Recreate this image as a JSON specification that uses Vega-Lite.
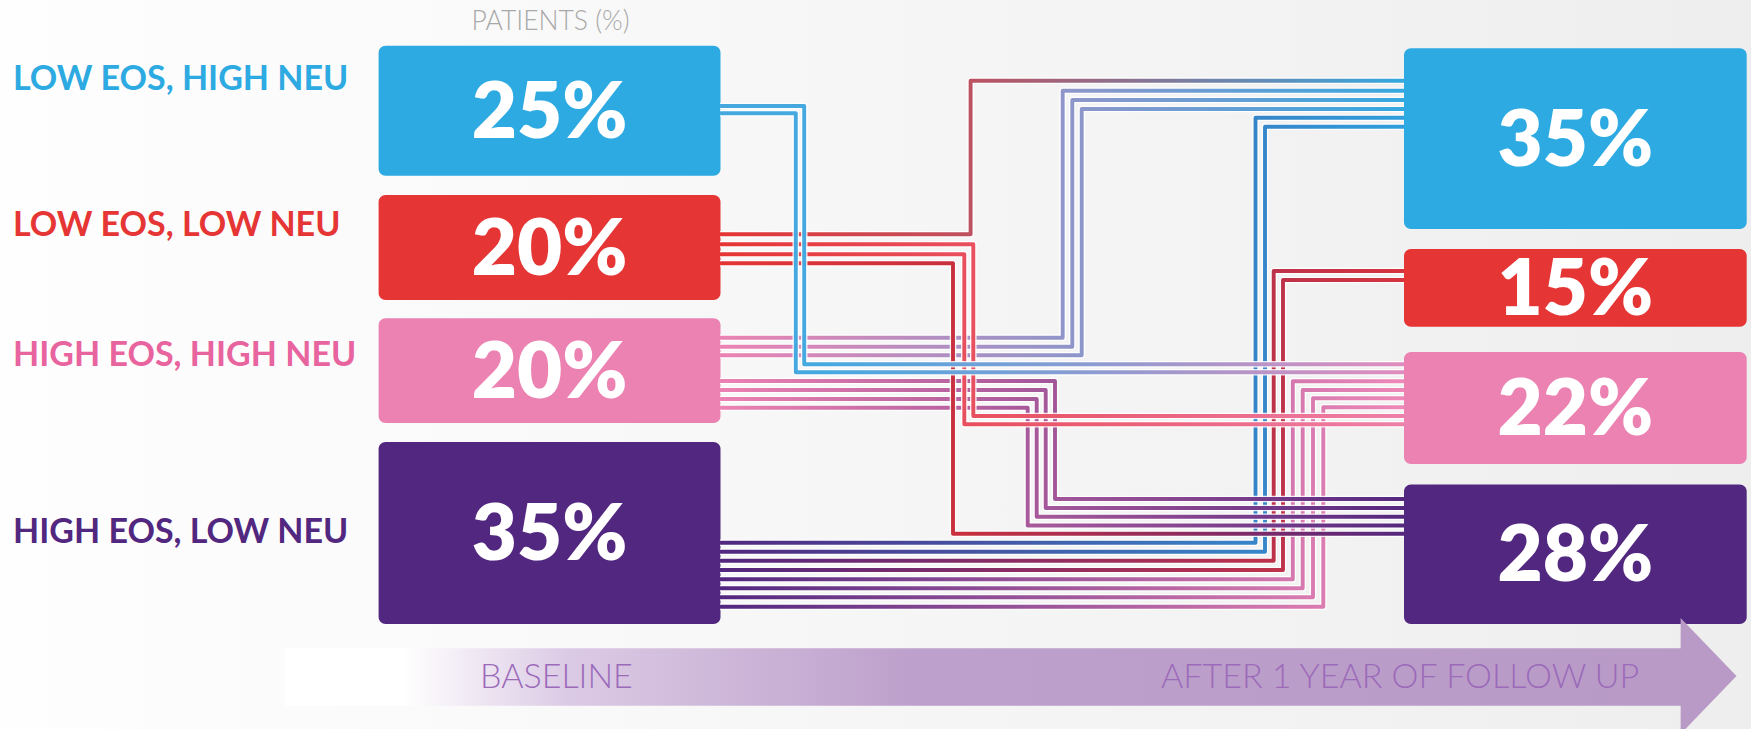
{
  "$schema": "https://vega.github.io/schema/vega-lite/v6.json",
  "width": 1751,
  "height": 729,
  "autosize": {"type": "none"},
  "padding": 0,
  "background": "#FFFFFF",
  "config": {"view": {"stroke": null}, "font": "Lato"},
  "resolve": {"scale": {"color": "independent"}},
  "datasets": {
    "boxes": [
      {"stage": "Baseline", "group": "Low EOS, High NEU", "pct": 0.25, "x0": 378.6, "x1": 720.5, "y0": 45.7, "y1": 175.7},
      {"stage": "Baseline", "group": "Low EOS, Low NEU", "pct": 0.20, "x0": 378.6, "x1": 720.5, "y0": 195, "y1": 300},
      {"stage": "Baseline", "group": "High EOS, High NEU", "pct": 0.20, "x0": 378.6, "x1": 720.5, "y0": 318.3, "y1": 423},
      {"stage": "Baseline", "group": "High EOS, Low NEU", "pct": 0.35, "x0": 378.6, "x1": 720.5, "y0": 442, "y1": 624},
      {"stage": "After 1 year", "group": "Low EOS, High NEU", "pct": 0.35, "x0": 1404, "x1": 1746.7, "y0": 48.3, "y1": 229},
      {"stage": "After 1 year", "group": "Low EOS, Low NEU", "pct": 0.15, "x0": 1404, "x1": 1746.7, "y0": 249, "y1": 326.7},
      {"stage": "After 1 year", "group": "High EOS, High NEU", "pct": 0.22, "x0": 1404, "x1": 1746.7, "y0": 352, "y1": 464},
      {"stage": "After 1 year", "group": "High EOS, Low NEU", "pct": 0.28, "x0": 1404, "x1": 1746.7, "y0": 484.5, "y1": 624}
    ],
    "labels": [
      {"text": "LOW EOS, HIGH NEU", "group": "Low EOS, High NEU", "x": 13, "y": 90},
      {"text": "LOW EOS, LOW NEU", "group": "Low EOS, Low NEU", "x": 13, "y": 235.7},
      {"text": "HIGH EOS, HIGH NEU", "group": "High EOS, High NEU", "x": 13, "y": 365.7},
      {"text": "HIGH EOS, LOW NEU", "group": "High EOS, Low NEU", "x": 13, "y": 543.3}
    ],
    "paths": [
      {"flow": "b>p", "line": "B1", "step": 0, "x": 720, "y": 106},
      {"flow": "b>p", "line": "B1", "step": 1, "x": 804.2, "y": 106},
      {"flow": "b>p", "line": "B1", "step": 2, "x": 804.2, "y": 364.3},
      {"flow": "b>p", "line": "B1", "step": 3, "x": 1404, "y": 364.3},
      {"flow": "b>p", "line": "B2", "step": 0, "x": 720, "y": 113.3},
      {"flow": "b>p", "line": "B2", "step": 1, "x": 795.8, "y": 113.3},
      {"flow": "b>p", "line": "B2", "step": 2, "x": 795.8, "y": 372.3},
      {"flow": "b>p", "line": "B2", "step": 3, "x": 1404, "y": 372.3},
      {"flow": "r>b", "line": "R1", "step": 0, "x": 720, "y": 234.3},
      {"flow": "r>b", "line": "R1", "step": 1, "x": 970.6, "y": 234.3},
      {"flow": "r>b", "line": "R1", "step": 2, "x": 970.6, "y": 80.8},
      {"flow": "r>b", "line": "R1", "step": 3, "x": 1404, "y": 80.8},
      {"flow": "r>p", "line": "R2", "step": 0, "x": 720, "y": 244.3},
      {"flow": "r>p", "line": "R2", "step": 1, "x": 973.3, "y": 244.3},
      {"flow": "r>p", "line": "R2", "step": 2, "x": 973.3, "y": 416},
      {"flow": "r>p", "line": "R2", "step": 3, "x": 1404, "y": 416},
      {"flow": "r>p", "line": "R3", "step": 0, "x": 720, "y": 254.3},
      {"flow": "r>p", "line": "R3", "step": 1, "x": 964.3, "y": 254.3},
      {"flow": "r>p", "line": "R3", "step": 2, "x": 964.3, "y": 424.3},
      {"flow": "r>p", "line": "R3", "step": 3, "x": 1404, "y": 424.3},
      {"flow": "r>u", "line": "R4", "step": 0, "x": 720, "y": 263.3},
      {"flow": "r>u", "line": "R4", "step": 1, "x": 953, "y": 263.3},
      {"flow": "r>u", "line": "R4", "step": 2, "x": 953, "y": 533.8},
      {"flow": "r>u", "line": "R4", "step": 3, "x": 1404, "y": 533.8},
      {"flow": "p>b", "line": "P1", "step": 0, "x": 720, "y": 337.7},
      {"flow": "p>b", "line": "P1", "step": 1, "x": 1062.7, "y": 337.7},
      {"flow": "p>b", "line": "P1", "step": 2, "x": 1062.7, "y": 90.7},
      {"flow": "p>b", "line": "P1", "step": 3, "x": 1404, "y": 90.7},
      {"flow": "p>b", "line": "P2", "step": 0, "x": 720, "y": 346.7},
      {"flow": "p>b", "line": "P2", "step": 1, "x": 1072.3, "y": 346.7},
      {"flow": "p>b", "line": "P2", "step": 2, "x": 1072.3, "y": 100},
      {"flow": "p>b", "line": "P2", "step": 3, "x": 1404, "y": 100},
      {"flow": "p>b", "line": "P3", "step": 0, "x": 720, "y": 355.3},
      {"flow": "p>b", "line": "P3", "step": 1, "x": 1081.7, "y": 355.3},
      {"flow": "p>b", "line": "P3", "step": 2, "x": 1081.7, "y": 109},
      {"flow": "p>b", "line": "P3", "step": 3, "x": 1404, "y": 109},
      {"flow": "p>u", "line": "P4", "step": 0, "x": 720, "y": 381},
      {"flow": "p>u", "line": "P4", "step": 1, "x": 1055, "y": 381},
      {"flow": "p>u", "line": "P4", "step": 2, "x": 1055, "y": 499},
      {"flow": "p>u", "line": "P4", "step": 3, "x": 1404, "y": 499},
      {"flow": "p>u", "line": "P5", "step": 0, "x": 720, "y": 390},
      {"flow": "p>u", "line": "P5", "step": 1, "x": 1045.7, "y": 390},
      {"flow": "p>u", "line": "P5", "step": 2, "x": 1045.7, "y": 508},
      {"flow": "p>u", "line": "P5", "step": 3, "x": 1404, "y": 508},
      {"flow": "p>u", "line": "P6", "step": 0, "x": 720, "y": 399},
      {"flow": "p>u", "line": "P6", "step": 1, "x": 1036.7, "y": 399},
      {"flow": "p>u", "line": "P6", "step": 2, "x": 1036.7, "y": 516.8},
      {"flow": "p>u", "line": "P6", "step": 3, "x": 1404, "y": 516.8},
      {"flow": "p>u", "line": "P7", "step": 0, "x": 720, "y": 407.7},
      {"flow": "p>u", "line": "P7", "step": 1, "x": 1027.7, "y": 407.7},
      {"flow": "p>u", "line": "P7", "step": 2, "x": 1027.7, "y": 525.5},
      {"flow": "p>u", "line": "P7", "step": 3, "x": 1404, "y": 525.5},
      {"flow": "u>b", "line": "U1", "step": 0, "x": 720, "y": 542.7},
      {"flow": "u>b", "line": "U1", "step": 1, "x": 1255.5, "y": 542.7},
      {"flow": "u>b", "line": "U1", "step": 2, "x": 1255.5, "y": 117.7},
      {"flow": "u>b", "line": "U1", "step": 3, "x": 1404, "y": 117.7},
      {"flow": "u>b", "line": "U2", "step": 0, "x": 720, "y": 551.7},
      {"flow": "u>b", "line": "U2", "step": 1, "x": 1265, "y": 551.7},
      {"flow": "u>b", "line": "U2", "step": 2, "x": 1265, "y": 126.7},
      {"flow": "u>b", "line": "U2", "step": 3, "x": 1404, "y": 126.7},
      {"flow": "u>r", "line": "U3", "step": 0, "x": 720, "y": 560.7},
      {"flow": "u>r", "line": "U3", "step": 1, "x": 1273.7, "y": 560.7},
      {"flow": "u>r", "line": "U3", "step": 2, "x": 1273.7, "y": 271},
      {"flow": "u>r", "line": "U3", "step": 3, "x": 1404, "y": 271},
      {"flow": "u>r", "line": "U4", "step": 0, "x": 720, "y": 570},
      {"flow": "u>r", "line": "U4", "step": 1, "x": 1283, "y": 570},
      {"flow": "u>r", "line": "U4", "step": 2, "x": 1283, "y": 280},
      {"flow": "u>r", "line": "U4", "step": 3, "x": 1404, "y": 280},
      {"flow": "u>p", "line": "U5", "step": 0, "x": 720, "y": 579.3},
      {"flow": "u>p", "line": "U5", "step": 1, "x": 1292.8, "y": 579.3},
      {"flow": "u>p", "line": "U5", "step": 2, "x": 1292.8, "y": 381.3},
      {"flow": "u>p", "line": "U5", "step": 3, "x": 1404, "y": 381.3},
      {"flow": "u>p", "line": "U6", "step": 0, "x": 720, "y": 588.3},
      {"flow": "u>p", "line": "U6", "step": 1, "x": 1302.7, "y": 588.3},
      {"flow": "u>p", "line": "U6", "step": 2, "x": 1302.7, "y": 390},
      {"flow": "u>p", "line": "U6", "step": 3, "x": 1404, "y": 390},
      {"flow": "u>p", "line": "U7", "step": 0, "x": 720, "y": 597.3},
      {"flow": "u>p", "line": "U7", "step": 1, "x": 1313, "y": 597.3},
      {"flow": "u>p", "line": "U7", "step": 2, "x": 1313, "y": 398.3},
      {"flow": "u>p", "line": "U7", "step": 3, "x": 1404, "y": 398.3},
      {"flow": "u>p", "line": "U8", "step": 0, "x": 720, "y": 606.7},
      {"flow": "u>p", "line": "U8", "step": 1, "x": 1323.3, "y": 606.7},
      {"flow": "u>p", "line": "U8", "step": 2, "x": 1323.3, "y": 407.3},
      {"flow": "u>p", "line": "U8", "step": 3, "x": 1404, "y": 407.3}
    ]
  },
  "layer": [
    {
      "data": {"values": [{"x0": 0, "x1": 1751, "y0": 0, "y1": 729}]},
      "mark": {"type": "rect", "color": {"gradient": "linear", "x1": 0, "y1": 0, "x2": 1, "y2": 0, "stops": [{"offset": 0, "color": "#FEFEFE"}, {"offset": 1, "color": "#EEEEEE"}]}},
      "encoding": {
        "x": {"field": "x0", "type": "quantitative", "scale": {"domain": [0, 1751], "nice": false, "zero": false}, "axis": null},
        "x2": {"field": "x1"},
        "y": {"field": "y0", "type": "quantitative", "scale": {"domain": [0, 729], "nice": false, "zero": false, "reverse": true}, "axis": null},
        "y2": {"field": "y1"}
      }
    },
    {
      "data": {"values": [{"x0": 284.8, "x1": 1681, "y0": 648.3, "y1": 705.7}]},
      "mark": {"type": "rect", "color": {"gradient": "linear", "x1": 0, "y1": 0, "x2": 1, "y2": 0, "stops": [{"offset": 0, "color": "#FFFFFF"}, {"offset": 0.085, "color": "#FFFFFF"}, {"offset": 0.2, "color": "#DCCBE5"}, {"offset": 0.45, "color": "#BDA0CB"}, {"offset": 1, "color": "#B99AC7"}]}},
      "encoding": {
        "x": {"field": "x0", "type": "quantitative", "scale": {"domain": [0, 1751], "nice": false, "zero": false}, "axis": null},
        "x2": {"field": "x1"},
        "y": {"field": "y0", "type": "quantitative", "scale": {"domain": [0, 729], "nice": false, "zero": false, "reverse": true}, "axis": null},
        "y2": {"field": "y1"}
      }
    },
    {
      "data": {"name": "boxes"},
      "mark": {"type": "rect", "cornerRadius": 7},
      "encoding": {
        "x": {"field": "x0", "type": "quantitative", "scale": {"domain": [0, 1751], "nice": false, "zero": false}, "axis": null},
        "x2": {"field": "x1"},
        "y": {"field": "y0", "type": "quantitative", "scale": {"domain": [0, 729], "nice": false, "zero": false, "reverse": true}, "axis": null},
        "y2": {"field": "y1"},
        "color": {"field": "group", "type": "nominal", "legend": null, "scale": {"domain": ["Low EOS, High NEU", "Low EOS, Low NEU", "High EOS, High NEU", "High EOS, Low NEU"], "range": ["#2DAAE1", "#E53535", "#EC82B2", "#52277F"]}}
      }
    },
    {
      "data": {"values": [{"x0": 1680.6, "y0": 618, "y1": 734}, {"x0": 1736.5, "y0": 676, "y1": 676}]},
      "mark": {"type": "area", "color": "#B99AC7", "orient": "vertical", "clip": true},
      "encoding": {
        "x": {"field": "x0", "type": "quantitative", "scale": {"domain": [0, 1751], "nice": false, "zero": false}, "axis": null},
        "y": {"field": "y0", "type": "quantitative", "scale": {"domain": [0, 729], "nice": false, "zero": false, "reverse": true}, "axis": null},
        "y2": {"field": "y1"}
      }
    },
    {
      "data": {"name": "paths"},
      "transform": [{"filter": "datum.flow === 'u>b'"}],
      "encoding": {
        "x": {"field": "x", "type": "quantitative", "scale": {"domain": [0, 1751], "nice": false, "zero": false}, "axis": null},
        "y": {"field": "y", "type": "quantitative", "scale": {"domain": [0, 729], "nice": false, "zero": false, "reverse": true}, "axis": null},
        "detail": {"field": "line", "type": "nominal"},
        "order": {"field": "step", "type": "quantitative"}
      },
      "layer": [
        {"mark": {"type": "line", "color": "#FFFFFF", "opacity": 0.85, "strokeWidth": 6.6, "strokeJoin": "round"}},
        {"mark": {"type": "line", "strokeWidth": 3.9, "strokeJoin": "round", "color": {"gradient": "linear", "x1": 0, "y1": 0, "x2": 1, "y2": 0, "stops": [{"offset": 0, "color": "#52277F"}, {"offset": 1, "color": "#2F9FDD"}]}}}
      ]
    },
    {
      "data": {"name": "paths"},
      "transform": [{"filter": "datum.flow === 'u>r'"}],
      "encoding": {
        "x": {"field": "x", "type": "quantitative", "scale": {"domain": [0, 1751], "nice": false, "zero": false}, "axis": null},
        "y": {"field": "y", "type": "quantitative", "scale": {"domain": [0, 729], "nice": false, "zero": false, "reverse": true}, "axis": null},
        "detail": {"field": "line", "type": "nominal"},
        "order": {"field": "step", "type": "quantitative"}
      },
      "layer": [
        {"mark": {"type": "line", "color": "#FFFFFF", "opacity": 0.85, "strokeWidth": 6.6, "strokeJoin": "round"}},
        {"mark": {"type": "line", "strokeWidth": 3.9, "strokeJoin": "round", "color": {"gradient": "linear", "x1": 0, "y1": 0, "x2": 1, "y2": 0, "stops": [{"offset": 0, "color": "#52277F"}, {"offset": 1, "color": "#D6343F"}]}}}
      ]
    },
    {
      "data": {"name": "paths"},
      "transform": [{"filter": "datum.flow === 'u>p'"}],
      "encoding": {
        "x": {"field": "x", "type": "quantitative", "scale": {"domain": [0, 1751], "nice": false, "zero": false}, "axis": null},
        "y": {"field": "y", "type": "quantitative", "scale": {"domain": [0, 729], "nice": false, "zero": false, "reverse": true}, "axis": null},
        "detail": {"field": "line", "type": "nominal"},
        "order": {"field": "step", "type": "quantitative"}
      },
      "layer": [
        {"mark": {"type": "line", "color": "#FFFFFF", "opacity": 0.85, "strokeWidth": 6.6, "strokeJoin": "round"}},
        {"mark": {"type": "line", "strokeWidth": 3.9, "strokeJoin": "round", "color": {"gradient": "linear", "x1": 0, "y1": 0, "x2": 1, "y2": 0, "stops": [{"offset": 0, "color": "#52277F"}, {"offset": 1, "color": "#EE88B8"}]}}}
      ]
    },
    {
      "data": {"name": "paths"},
      "transform": [{"filter": "datum.flow === 'p>u'"}],
      "encoding": {
        "x": {"field": "x", "type": "quantitative", "scale": {"domain": [0, 1751], "nice": false, "zero": false}, "axis": null},
        "y": {"field": "y", "type": "quantitative", "scale": {"domain": [0, 729], "nice": false, "zero": false, "reverse": true}, "axis": null},
        "detail": {"field": "line", "type": "nominal"},
        "order": {"field": "step", "type": "quantitative"}
      },
      "layer": [
        {"mark": {"type": "line", "color": "#FFFFFF", "opacity": 0.85, "strokeWidth": 6.6, "strokeJoin": "round"}},
        {"mark": {"type": "line", "strokeWidth": 3.9, "strokeJoin": "round", "color": {"gradient": "linear", "x1": 0, "y1": 0, "x2": 1, "y2": 0, "stops": [{"offset": 0, "color": "#EC82B2"}, {"offset": 1, "color": "#55287F"}]}}}
      ]
    },
    {
      "data": {"name": "paths"},
      "transform": [{"filter": "datum.flow === 'p>b'"}],
      "encoding": {
        "x": {"field": "x", "type": "quantitative", "scale": {"domain": [0, 1751], "nice": false, "zero": false}, "axis": null},
        "y": {"field": "y", "type": "quantitative", "scale": {"domain": [0, 729], "nice": false, "zero": false, "reverse": true}, "axis": null},
        "detail": {"field": "line", "type": "nominal"},
        "order": {"field": "step", "type": "quantitative"}
      },
      "layer": [
        {"mark": {"type": "line", "color": "#FFFFFF", "opacity": 0.85, "strokeWidth": 6.6, "strokeJoin": "round"}},
        {"mark": {"type": "line", "strokeWidth": 3.9, "strokeJoin": "round", "color": {"gradient": "linear", "x1": 0, "y1": 0, "x2": 1, "y2": 0, "stops": [{"offset": 0, "color": "#EC82B2"}, {"offset": 1, "color": "#35A8E0"}]}}}
      ]
    },
    {
      "data": {"name": "paths"},
      "transform": [{"filter": "datum.flow === 'r>u'"}],
      "encoding": {
        "x": {"field": "x", "type": "quantitative", "scale": {"domain": [0, 1751], "nice": false, "zero": false}, "axis": null},
        "y": {"field": "y", "type": "quantitative", "scale": {"domain": [0, 729], "nice": false, "zero": false, "reverse": true}, "axis": null},
        "detail": {"field": "line", "type": "nominal"},
        "order": {"field": "step", "type": "quantitative"}
      },
      "layer": [
        {"mark": {"type": "line", "color": "#FFFFFF", "opacity": 0.85, "strokeWidth": 6.6, "strokeJoin": "round"}},
        {"mark": {"type": "line", "strokeWidth": 3.9, "strokeJoin": "round", "color": {"gradient": "linear", "x1": 0, "y1": 0, "x2": 1, "y2": 0, "stops": [{"offset": 0, "color": "#E53535"}, {"offset": 0.35, "color": "#C8303F"}, {"offset": 1, "color": "#55287F"}]}}}
      ]
    },
    {
      "data": {"name": "paths"},
      "transform": [{"filter": "datum.flow === 'r>p'"}],
      "encoding": {
        "x": {"field": "x", "type": "quantitative", "scale": {"domain": [0, 1751], "nice": false, "zero": false}, "axis": null},
        "y": {"field": "y", "type": "quantitative", "scale": {"domain": [0, 729], "nice": false, "zero": false, "reverse": true}, "axis": null},
        "detail": {"field": "line", "type": "nominal"},
        "order": {"field": "step", "type": "quantitative"}
      },
      "layer": [
        {"mark": {"type": "line", "color": "#FFFFFF", "opacity": 0.85, "strokeWidth": 6.6, "strokeJoin": "round"}},
        {"mark": {"type": "line", "strokeWidth": 3.9, "strokeJoin": "round", "color": {"gradient": "linear", "x1": 0, "y1": 0, "x2": 1, "y2": 0, "stops": [{"offset": 0, "color": "#E53535"}, {"offset": 1, "color": "#EE7FA8"}]}}}
      ]
    },
    {
      "data": {"name": "paths"},
      "transform": [{"filter": "datum.flow === 'r>b'"}],
      "encoding": {
        "x": {"field": "x", "type": "quantitative", "scale": {"domain": [0, 1751], "nice": false, "zero": false}, "axis": null},
        "y": {"field": "y", "type": "quantitative", "scale": {"domain": [0, 729], "nice": false, "zero": false, "reverse": true}, "axis": null},
        "detail": {"field": "line", "type": "nominal"},
        "order": {"field": "step", "type": "quantitative"}
      },
      "layer": [
        {"mark": {"type": "line", "color": "#FFFFFF", "opacity": 0.85, "strokeWidth": 6.6, "strokeJoin": "round"}},
        {"mark": {"type": "line", "strokeWidth": 3.9, "strokeJoin": "round", "color": {"gradient": "linear", "x1": 0, "y1": 0, "x2": 1, "y2": 0, "stops": [{"offset": 0, "color": "#E53535"}, {"offset": 0.35, "color": "#C0505E"}, {"offset": 1, "color": "#35A8E0"}]}}}
      ]
    },
    {
      "data": {"name": "paths"},
      "transform": [{"filter": "datum.flow === 'b>p'"}],
      "encoding": {
        "x": {"field": "x", "type": "quantitative", "scale": {"domain": [0, 1751], "nice": false, "zero": false}, "axis": null},
        "y": {"field": "y", "type": "quantitative", "scale": {"domain": [0, 729], "nice": false, "zero": false, "reverse": true}, "axis": null},
        "detail": {"field": "line", "type": "nominal"},
        "order": {"field": "step", "type": "quantitative"}
      },
      "layer": [
        {"mark": {"type": "line", "color": "#FFFFFF", "opacity": 0.85, "strokeWidth": 6.6, "strokeJoin": "round"}},
        {"mark": {"type": "line", "strokeWidth": 3.9, "strokeJoin": "round", "color": {"gradient": "linear", "x1": 0, "y1": 0, "x2": 1, "y2": 0, "stops": [{"offset": 0, "color": "#45A9E0"}, {"offset": 0.15, "color": "#45A9E0"}, {"offset": 1, "color": "#E08CBE"}]}}}
      ]
    },
    {
      "data": {"name": "boxes"},
      "transform": [
        {"calculate": "(datum.x0 + datum.x1) / 2", "as": "cx"},
        {"calculate": "(datum.y0 + datum.y1) / 2", "as": "cy"}
      ],
      "mark": {"type": "text", "color": "#FFFFFF", "font": "Lato", "fontWeight": 800, "fontSize": 78, "align": "center", "baseline": "middle", "dy": 4},
      "encoding": {
        "x": {"field": "cx", "type": "quantitative", "scale": {"domain": [0, 1751], "nice": false, "zero": false}, "axis": null},
        "y": {"field": "cy", "type": "quantitative", "scale": {"domain": [0, 729], "nice": false, "zero": false, "reverse": true}, "axis": null},
        "text": {"field": "pct", "type": "quantitative", "format": ".0%"}
      }
    },
    {
      "data": {"name": "labels"},
      "mark": {"type": "text", "font": "Lato", "fontWeight": "bold", "fontSize": 34, "align": "left", "baseline": "alphabetic"},
      "encoding": {
        "x": {"field": "x", "type": "quantitative", "scale": {"domain": [0, 1751], "nice": false, "zero": false}, "axis": null},
        "y": {"field": "y", "type": "quantitative", "scale": {"domain": [0, 729], "nice": false, "zero": false, "reverse": true}, "axis": null},
        "text": {"field": "text", "type": "nominal"},
        "color": {"field": "group", "type": "nominal", "legend": null, "scale": {"domain": ["Low EOS, High NEU", "Low EOS, Low NEU", "High EOS, High NEU", "High EOS, Low NEU"], "range": ["#2DAAE1", "#E53535", "#E8649F", "#52277F"]}}
      }
    },
    {
      "data": {"values": [{"text": "PATIENTS (%)", "x": 550.5, "y": 30}]},
      "mark": {"type": "text", "font": "Lato", "fontWeight": 300, "fontSize": 26.5, "color": "#A9A9A9", "align": "center", "baseline": "alphabetic"},
      "encoding": {
        "x": {"field": "x", "type": "quantitative", "scale": {"domain": [0, 1751], "nice": false, "zero": false}, "axis": null},
        "y": {"field": "y", "type": "quantitative", "scale": {"domain": [0, 729], "nice": false, "zero": false, "reverse": true}, "axis": null},
        "text": {"field": "text", "type": "nominal"}
      }
    },
    {
      "data": {"values": [{"text": "BASELINE", "x": 480, "y": 688}, {"text": "AFTER 1 YEAR OF FOLLOW UP", "x": 1161, "y": 688}]},
      "mark": {"type": "text", "font": "Lato", "fontWeight": 300, "fontSize": 34, "color": "#9B6BBA", "align": "left", "baseline": "alphabetic"},
      "encoding": {
        "x": {"field": "x", "type": "quantitative", "scale": {"domain": [0, 1751], "nice": false, "zero": false}, "axis": null},
        "y": {"field": "y", "type": "quantitative", "scale": {"domain": [0, 729], "nice": false, "zero": false, "reverse": true}, "axis": null},
        "text": {"field": "text", "type": "nominal"}
      }
    }
  ]
}
